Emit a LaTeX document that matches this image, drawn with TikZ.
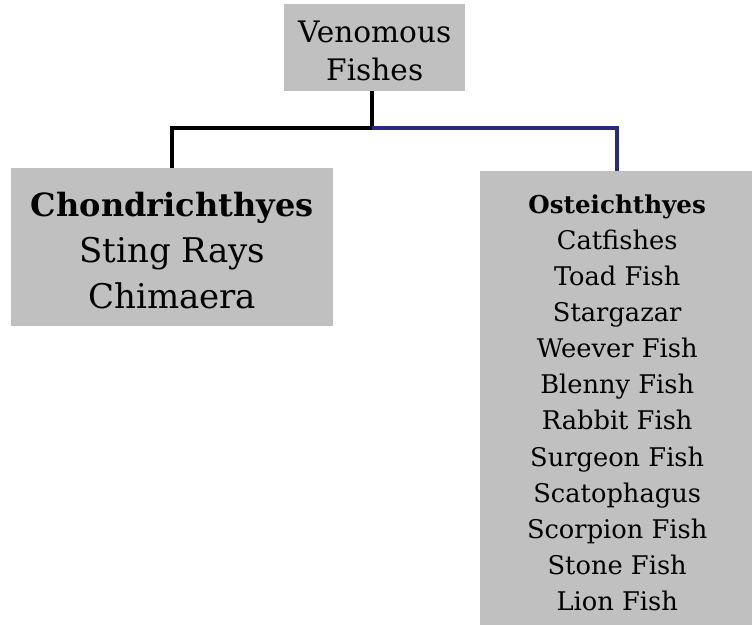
\documentclass[tikz,border=0pt]{standalone}
\usepackage{fontspec}
\setmainfont{DejaVu Serif}
\definecolor{boxgray}{HTML}{C0C0C0}
\definecolor{linenavy}{HTML}{2A2A80}
\begin{document}
\begin{tikzpicture}[x=1pt,y=1pt,
  box/.style={fill=boxgray, draw=none, inner sep=0pt, align=center, anchor=north west},
  link/.style={line width=3.5pt}]
\useasboundingbox (0,0) rectangle (752,-624);
\node[box, minimum width=181pt, minimum height=87pt,
  font=\fontsize{29.6}{38}\selectfont] (top) at (284,-4)
  {\rule{0pt}{27.6pt}Venomous\\Fishes};
\node[box, minimum width=322pt, minimum height=158pt,
  font=\fontsize{34}{46}\selectfont] (left) at (11,-168)
  {\rule{0pt}{31.8pt}{\fontsize{32}{46}\selectfont\bfseries Chondrichthyes}\\Sting Rays\\Chimaera};
\node[box, minimum width=274pt, minimum height=455pt,
  font=\fontsize{25.7}{36.1}\selectfont] (right) at (480,-171)
  {\rule{0pt}{26.7pt}{\fontsize{24.6}{36.1}\selectfont\bfseries Osteichthyes}\\Catfishes\\Toad Fish\\Stargazar\\Weever Fish\\Blenny Fish\\Rabbit Fish\\Surgeon Fish\\Scatophagus\\Scorpion Fish\\Stone Fish\\Lion Fish};
\coordinate (j) at (372,-128);
\draw[link, black] (372,-91) -- (j);
\draw[link, black] (j) -| (left.north);
\draw[link, linenavy] (j) -| (right.north);
\end{tikzpicture}
\end{document}
